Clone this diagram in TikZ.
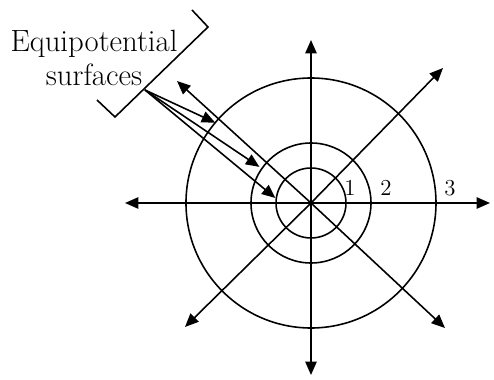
\documentclass[tikz,border=0pt]{standalone}
\usepackage{tikz}
\usetikzlibrary{arrows.meta}
\begin{document}
\begin{tikzpicture}[x=0.02cm,y=0.02cm,line width=0.9pt,>={Triangle[length=2.7mm,width=2.3mm]},
  num/.style={font=\fontsize{13}{15}\selectfont}]
\useasboundingbox (-311,-176) rectangle (183,203);
\coordinate (O) at (0,0);
\coordinate (r) at (179,0);
\coordinate (l) at (-186,0);
\coordinate (u) at (0,163);
\coordinate (d) at (0,-172);
\coordinate (ne) at (132,135);
\coordinate (se) at (134,-125);
\coordinate (sw) at (-126,-124);
\coordinate (nw) at (-134,122);
\foreach \t in {r,l,u,d,ne,se,sw,nw}
  \draw[->](O)--(\t);
\draw(O)circle(35) (O)circle(60) (O)circle(125);
\fill(O)circle(2);
\node[num] (n1) at (39,15) {1};
\node[num] (n2) at (75,15) {2};
\node[num] (n3) at (139,15) {3};
\coordinate (b1) at (-214,103);
\coordinate (b2) at (-196,86);
\coordinate (b3) at (-103,176);
\coordinate (b4) at (-119,193);
\draw(b1)--(b2)--(b3)--(b4);
\node[align=center,font=\fontsize{17.5}{19}\selectfont] (lab) at (-217,145) {Equipotential\\surfaces};
\coordinate (s) at (-166,113);
\coordinate (t3) at (140:125);
\coordinate (t2) at (145:63);
\coordinate (t1) at (172:36);
\draw[->](s)--(t3);
\draw[->](s)--(t2);
\draw[->](s)--(t1);
\end{tikzpicture}
\end{document}
